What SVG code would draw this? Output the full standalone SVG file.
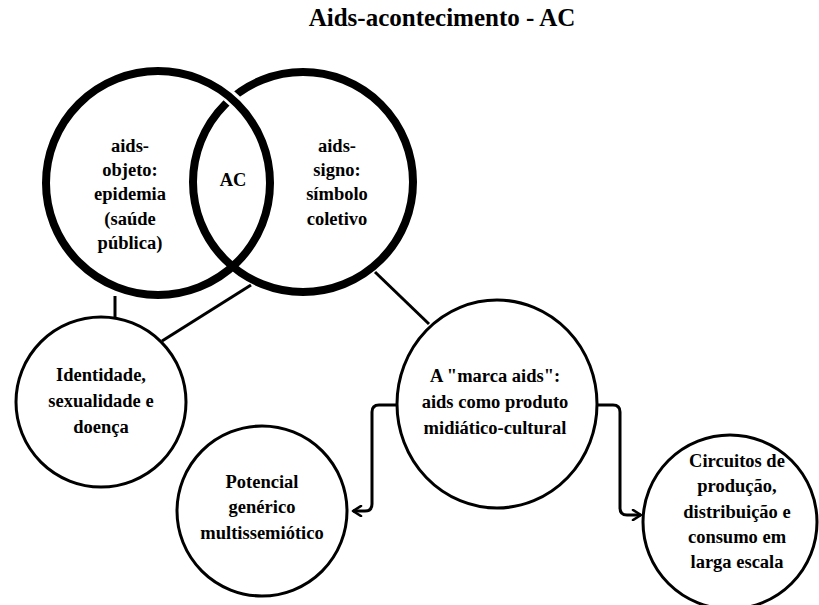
<svg xmlns="http://www.w3.org/2000/svg" width="819" height="605" viewBox="0 0 819 605">
  <defs>
    <style>
      .t { font-family: "Liberation Serif", "Times New Roman", serif; font-weight: bold; font-size: 18.5px; fill: #000; text-anchor: middle; }
      .title { font-size: 25px; }
      .big { fill: none; stroke: #000; stroke-width: 8; }
      .node { fill: #fff; stroke: #000; stroke-width: 3; }
      .link { fill: none; stroke: #000; stroke-width: 3; }
      .flow { fill: none; stroke: #000; stroke-width: 3; stroke-linejoin: round; }
    </style>
    <marker id="chev" viewBox="0 0 12 12" refX="10" refY="6" markerWidth="12" markerHeight="12" markerUnits="userSpaceOnUse" orient="auto">
      <path d="M2,1 L10,6 L2,11" fill="none" stroke="#000" stroke-width="2.6" stroke-linejoin="round" stroke-linecap="round"/>
    </marker>
  </defs>

  <rect width="819" height="605" fill="#fff"/>

  <text class="t title" x="442" y="26">Aids-acontecimento - AC</text>

  <!-- connectors -->
  <g id="connectors">
    <line class="link" x1="115" y1="296" x2="115" y2="318"/>
    <line class="link" x1="251" y1="285" x2="162" y2="341"/>
    <line class="link" x1="375" y1="272" x2="429" y2="324"/>
    <path class="flow" d="M397,405 H379 Q372,405 372,412 V504 Q372,511 365,511 H353" marker-end="url(#chev)"/>
    <path class="flow" d="M597,405 H613 Q620,405 620,412 V508 Q620,515 627,515 H641" marker-end="url(#chev)"/>
  </g>

  <!-- overlapping pair -->
  <g id="aids-signo">
    <circle class="big" cx="303" cy="182" r="110"/>
    <text class="t" x="337" y="152">aids-</text>
    <text class="t" x="337" y="176">signo:</text>
    <text class="t" x="337" y="200">símbolo</text>
    <text class="t" x="337" y="225">coletivo</text>
  </g>

  <g id="aids-objeto">
    <!-- white halo where this ring passes over the other at the top -->
    <path d="M228,95 A112,112 0 0 1 250,120" fill="none" stroke="#fff" stroke-width="14"/>
    <circle class="big" cx="158" cy="183" r="112"/>
    <text class="t" x="130" y="152">aids-</text>
    <text class="t" x="130" y="176">objeto:</text>
    <text class="t" x="130" y="200">epidemia</text>
    <text class="t" x="130" y="225">(saúde</text>
    <text class="t" x="130" y="249">pública)</text>
  </g>

  <g id="ac">
    <text class="t" x="233" y="186">AC</text>
  </g>

  <g id="identidade">
    <circle class="node" cx="101" cy="402" r="85"/>
    <text class="t" x="101" y="381">Identidade,</text>
    <text class="t" x="101" y="407">sexualidade e</text>
    <text class="t" x="101" y="433">doença</text>
  </g>

  <g id="marca">
    <ellipse class="node" cx="497" cy="404" rx="100" ry="104"/>
    <text class="t" x="495" y="382">A "marca aids":</text>
    <text class="t" x="495" y="408">aids como produto</text>
    <text class="t" x="495" y="434">midiático-cultural</text>
  </g>

  <g id="potencial">
    <circle class="node" cx="262" cy="511" r="85"/>
    <text class="t" x="262" y="488">Potencial</text>
    <text class="t" x="262" y="513">genérico</text>
    <text class="t" x="262" y="539">multissemiótico</text>
  </g>

  <g id="circuitos">
    <circle class="node" cx="730" cy="522" r="87"/>
    <text class="t" x="737" y="467">Circuitos de</text>
    <text class="t" x="737" y="492">produção,</text>
    <text class="t" x="737" y="518">distribuição e</text>
    <text class="t" x="737" y="543">consumo em</text>
    <text class="t" x="737" y="568">larga escala</text>
  </g>
</svg>
